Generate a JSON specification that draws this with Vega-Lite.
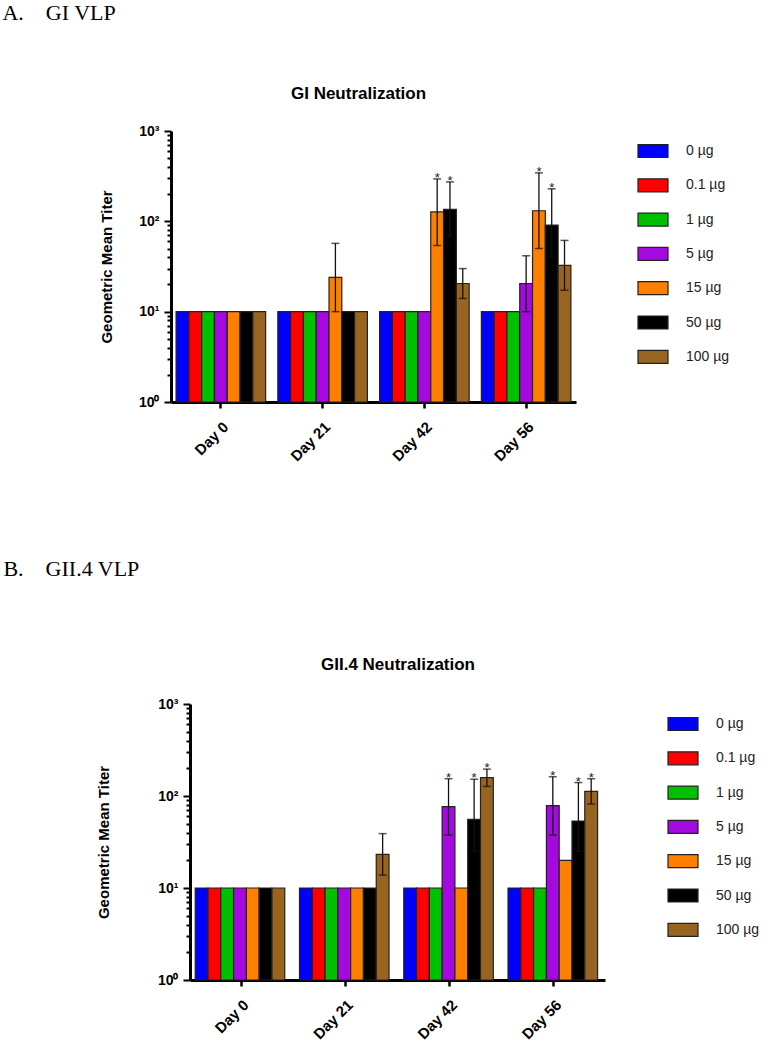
{
  "$schema": "https://vega.github.io/schema/vega-lite/v6.json",
  "background": "white",
  "padding": {"left": 2, "top": 2, "right": 0, "bottom": 0},
  "config": {"view": {"stroke": null}, "font": "Liberation Sans"},
  "datasets": {
    "rows": [
      {"panel": "A", "day": "Day 0", "dose": "0 µg", "gmt": 10},
      {"panel": "A", "day": "Day 0", "dose": "0.1 µg", "gmt": 10},
      {"panel": "A", "day": "Day 0", "dose": "1 µg", "gmt": 10},
      {"panel": "A", "day": "Day 0", "dose": "5 µg", "gmt": 10},
      {"panel": "A", "day": "Day 0", "dose": "15 µg", "gmt": 10},
      {"panel": "A", "day": "Day 0", "dose": "50 µg", "gmt": 10},
      {"panel": "A", "day": "Day 0", "dose": "100 µg", "gmt": 10},
      {"panel": "A", "day": "Day 21", "dose": "0 µg", "gmt": 10},
      {"panel": "A", "day": "Day 21", "dose": "0.1 µg", "gmt": 10},
      {"panel": "A", "day": "Day 21", "dose": "1 µg", "gmt": 10},
      {"panel": "A", "day": "Day 21", "dose": "5 µg", "gmt": 10},
      {"panel": "A", "day": "Day 21", "dose": "15 µg", "gmt": 24, "lo": 10, "hi": 57},
      {"panel": "A", "day": "Day 21", "dose": "50 µg", "gmt": 10},
      {"panel": "A", "day": "Day 21", "dose": "100 µg", "gmt": 10},
      {"panel": "A", "day": "Day 42", "dose": "0 µg", "gmt": 10},
      {"panel": "A", "day": "Day 42", "dose": "0.1 µg", "gmt": 10},
      {"panel": "A", "day": "Day 42", "dose": "1 µg", "gmt": 10},
      {"panel": "A", "day": "Day 42", "dose": "5 µg", "gmt": 10},
      {"panel": "A", "day": "Day 42", "dose": "15 µg", "gmt": 127, "lo": 54, "hi": 295, "star": true},
      {"panel": "A", "day": "Day 42", "dose": "50 µg", "gmt": 136, "lo": 68, "hi": 273, "star": true},
      {"panel": "A", "day": "Day 42", "dose": "100 µg", "gmt": 20.5, "lo": 14, "hi": 30},
      {"panel": "A", "day": "Day 56", "dose": "0 µg", "gmt": 10},
      {"panel": "A", "day": "Day 56", "dose": "0.1 µg", "gmt": 10},
      {"panel": "A", "day": "Day 56", "dose": "1 µg", "gmt": 10},
      {"panel": "A", "day": "Day 56", "dose": "5 µg", "gmt": 20.5, "lo": 10, "hi": 41.6},
      {"panel": "A", "day": "Day 56", "dose": "15 µg", "gmt": 131, "lo": 50, "hi": 344, "star": true},
      {"panel": "A", "day": "Day 56", "dose": "50 µg", "gmt": 91, "lo": 40, "hi": 229, "star": true},
      {"panel": "A", "day": "Day 56", "dose": "100 µg", "gmt": 32.5, "lo": 17.3, "hi": 61.5},
      {"panel": "B", "day": "Day 0", "dose": "0 µg", "gmt": 10},
      {"panel": "B", "day": "Day 0", "dose": "0.1 µg", "gmt": 10},
      {"panel": "B", "day": "Day 0", "dose": "1 µg", "gmt": 10},
      {"panel": "B", "day": "Day 0", "dose": "5 µg", "gmt": 10},
      {"panel": "B", "day": "Day 0", "dose": "15 µg", "gmt": 10},
      {"panel": "B", "day": "Day 0", "dose": "50 µg", "gmt": 10},
      {"panel": "B", "day": "Day 0", "dose": "100 µg", "gmt": 10},
      {"panel": "B", "day": "Day 21", "dose": "0 µg", "gmt": 10},
      {"panel": "B", "day": "Day 21", "dose": "0.1 µg", "gmt": 10},
      {"panel": "B", "day": "Day 21", "dose": "1 µg", "gmt": 10},
      {"panel": "B", "day": "Day 21", "dose": "5 µg", "gmt": 10},
      {"panel": "B", "day": "Day 21", "dose": "15 µg", "gmt": 10},
      {"panel": "B", "day": "Day 21", "dose": "50 µg", "gmt": 10},
      {"panel": "B", "day": "Day 21", "dose": "100 µg", "gmt": 23.2, "lo": 13.8, "hi": 39},
      {"panel": "B", "day": "Day 42", "dose": "0 µg", "gmt": 10},
      {"panel": "B", "day": "Day 42", "dose": "0.1 µg", "gmt": 10},
      {"panel": "B", "day": "Day 42", "dose": "1 µg", "gmt": 10},
      {"panel": "B", "day": "Day 42", "dose": "5 µg", "gmt": 76.5, "lo": 37.7, "hi": 154, "star": true},
      {"panel": "B", "day": "Day 42", "dose": "15 µg", "gmt": 10},
      {"panel": "B", "day": "Day 42", "dose": "50 µg", "gmt": 55.8, "lo": 25, "hi": 152, "star": true},
      {"panel": "B", "day": "Day 42", "dose": "100 µg", "gmt": 158, "lo": 127, "hi": 196, "star": true},
      {"panel": "B", "day": "Day 56", "dose": "0 µg", "gmt": 10},
      {"panel": "B", "day": "Day 56", "dose": "0.1 µg", "gmt": 10},
      {"panel": "B", "day": "Day 56", "dose": "1 µg", "gmt": 10},
      {"panel": "B", "day": "Day 56", "dose": "5 µg", "gmt": 78.5, "lo": 37.7, "hi": 162, "star": true},
      {"panel": "B", "day": "Day 56", "dose": "15 µg", "gmt": 20},
      {"panel": "B", "day": "Day 56", "dose": "50 µg", "gmt": 53.5, "lo": 25, "hi": 140, "star": true},
      {"panel": "B", "day": "Day 56", "dose": "100 µg", "gmt": 112.5, "lo": 82, "hi": 154, "star": true}
    ]
  },
  "spacing": 94,
  "resolve": {"legend": {"color": "independent"}},
  "vconcat": [
    {
      "title": {"text": "A.\u00a0\u00a0\u00a0\u00a0GI VLP", "anchor": "start", "font": "Liberation Serif", "fontSize": 22, "fontWeight": "normal", "color": "#000", "dx": -97, "offset": 60},
      "vconcat": [
        {
          "width": 405,
          "height": 271,
          "title": {"text": "GI Neutralization", "fontSize": 17, "fontWeight": "bold", "color": "#000", "offset": 21, "anchor": "middle", "dx": -15},
          "data": {"name": "rows"},
          "transform": [{"filter": "datum.panel == 'A'"}],
          "encoding": {
            "x": {"field": "day", "type": "nominal", "sort": ["Day 0", "Day 21", "Day 42", "Day 56"],
              "scale": {"paddingInner": 0.12, "paddingOuter": 0.05},
              "axis": {"title": null, "labelAngle": -45, "labelFontSize": 15, "labelFontWeight": "bold", "labelColor": "#000", "domainColor": "#000", "domainWidth": 3, "tickColor": "#000", "tickWidth": 2.5, "tickSize": 6, "labelPadding": 11}},
            "xOffset": {"field": "dose", "type": "nominal", "sort": ["0 µg", "0.1 µg", "1 µg", "5 µg", "15 µg", "50 µg", "100 µg"], "scale": {"paddingInner": 0, "paddingOuter": 0}}
          },
          "layer": [
            {
              "mark": {"type": "bar", "stroke": "#222", "strokeWidth": 1.2},
              "encoding": {
                "y": {"field": "gmt", "type": "quantitative", "scale": {"type": "log", "domain": [1, 1000], "nice": false},
                  "axis": {"title": "Geometric Mean Titer", "titleFontSize": 15, "titleFontWeight": "bold", "titleColor": "#000", "titlePadding": 24,
                    "values": [1, 2, 3, 4, 5, 6, 7, 8, 9, 10, 20, 30, 40, 50, 60, 70, 80, 90, 100, 200, 300, 400, 500, 600, 700, 800, 900, 1000],
                    "labelExpr": "datum.value == 1 ? '10⁰' : datum.value == 10 ? '10¹' : datum.value == 100 ? '10²' : datum.value == 1000 ? '10³' : ''",
                    "labelFontSize": 14, "labelFontWeight": "bold", "labelColor": "#000", "labelOverlap": false, "labelBound": false, "labelFlush": false, "labelPadding": 5,
                    "tickColor": "#000", "tickWidth": 2, "tickSize": {"condition": {"test": "indexof([1,10,100,1000], datum.value) >= 0", "value": 7}, "value": 4},
                    "domainColor": "#000", "domainWidth": 3, "grid": false}},
                "y2": {"datum": 1},
                "color": {"field": "dose", "type": "nominal",
                  "scale": {"domain": ["0 µg", "0.1 µg", "1 µg", "5 µg", "15 µg", "50 µg", "100 µg"], "range": ["#0000FF", "#FF0000", "#00C000", "#A40ADF", "#FF8000", "#000000", "#98641F"]},
                  "legend": {"title": null, "orient": "none", "legendX": 466, "legendY": 4, "symbolType": "M-1,-0.433H1V0.433H-1Z", "symbolSize": 900, "symbolStrokeColor": "#222", "symbolStrokeWidth": 1.2, "symbolOpacity": 1, "labelFontSize": 14, "labelColor": "#222", "labelOffset": 17, "rowPadding": 9.3}}
              }
            },
            {
              "transform": [{"filter": "datum.hi != null"}],
              "mark": {"type": "rule", "color": "#111", "strokeWidth": 1.3},
              "encoding": {"y": {"field": "lo", "type": "quantitative"}, "y2": {"field": "hi"}}
            },
            {
              "transform": [{"filter": "datum.hi != null"}],
              "mark": {"type": "tick", "orient": "horizontal", "color": "#111", "thickness": 1.5, "size": 8},
              "encoding": {"y": {"field": "hi", "type": "quantitative"}}
            },
            {
              "transform": [{"filter": "datum.hi != null"}],
              "mark": {"type": "tick", "orient": "horizontal", "color": "#111", "thickness": 1.5, "size": 8},
              "encoding": {"y": {"field": "lo", "type": "quantitative"}}
            },
            {
              "transform": [{"filter": "datum.star == true"}],
              "mark": {"type": "text", "text": "*", "fontSize": 13, "color": "#222", "baseline": "alphabetic", "dy": 3},
              "encoding": {"y": {"field": "hi", "type": "quantitative"}}
            }
          ]
        }
      ]
    },
    {
      "title": {"text": "B.\u00a0\u00a0\u00a0\u00a0GII.4 VLP", "anchor": "start", "font": "Liberation Serif", "fontSize": 22, "fontWeight": "normal", "color": "#000", "dx": -93, "offset": 75},
      "vconcat": [
        {
          "width": 434,
          "height": 276,
          "title": {"text": "GII.4 Neutralization", "fontSize": 17, "fontWeight": "bold", "color": "#000", "offset": 23, "anchor": "middle", "dx": 10},
          "data": {"name": "rows"},
          "transform": [{"filter": "datum.panel == 'B'"}],
          "encoding": {
            "x": {"field": "day", "type": "nominal", "sort": ["Day 0", "Day 21", "Day 42", "Day 56"],
              "scale": {"paddingInner": 0.12, "paddingOuter": 0.05, "range": [19, 434]},
              "axis": {"title": null, "labelAngle": -45, "labelFontSize": 15, "labelFontWeight": "bold", "labelColor": "#000", "domainColor": "#000", "domainWidth": 3, "tickColor": "#000", "tickWidth": 2.5, "tickSize": 6, "labelPadding": 11}},
            "xOffset": {"field": "dose", "type": "nominal", "sort": ["0 µg", "0.1 µg", "1 µg", "5 µg", "15 µg", "50 µg", "100 µg"], "scale": {"paddingInner": 0, "paddingOuter": 0}}
          },
          "layer": [
            {
              "mark": {"type": "bar", "stroke": "#222", "strokeWidth": 1.2},
              "encoding": {
                "y": {"field": "gmt", "type": "quantitative", "scale": {"type": "log", "domain": [1, 1000], "nice": false},
                  "axis": {"title": "Geometric Mean Titer", "titleFontSize": 15, "titleFontWeight": "bold", "titleColor": "#000", "titlePadding": 46, "offset": -19,
                    "values": [1, 2, 3, 4, 5, 6, 7, 8, 9, 10, 20, 30, 40, 50, 60, 70, 80, 90, 100, 200, 300, 400, 500, 600, 700, 800, 900, 1000],
                    "labelExpr": "datum.value == 1 ? '10⁰' : datum.value == 10 ? '10¹' : datum.value == 100 ? '10²' : datum.value == 1000 ? '10³' : ''",
                    "labelFontSize": 14, "labelFontWeight": "bold", "labelColor": "#000", "labelOverlap": false, "labelBound": false, "labelFlush": false, "labelPadding": 5,
                    "tickColor": "#000", "tickWidth": 2, "tickSize": {"condition": {"test": "indexof([1,10,100,1000], datum.value) >= 0", "value": 7}, "value": 4},
                    "domainColor": "#000", "domainWidth": 3, "grid": false}},
                "y2": {"datum": 1},
                "color": {"field": "dose", "type": "nominal",
                  "scale": {"domain": ["0 µg", "0.1 µg", "1 µg", "5 µg", "15 µg", "50 µg", "100 µg"], "range": ["#0000FF", "#FF0000", "#00C000", "#A40ADF", "#FF8000", "#000000", "#98641F"]},
                  "legend": {"title": null, "orient": "none", "legendX": 496, "legendY": 4, "symbolType": "M-1,-0.433H1V0.433H-1Z", "symbolSize": 900, "symbolStrokeColor": "#222", "symbolStrokeWidth": 1.2, "symbolOpacity": 1, "labelFontSize": 14, "labelColor": "#222", "labelOffset": 17, "rowPadding": 9.3}}
              }
            },
            {
              "transform": [{"filter": "datum.hi != null"}],
              "mark": {"type": "rule", "color": "#111", "strokeWidth": 1.3},
              "encoding": {"y": {"field": "lo", "type": "quantitative"}, "y2": {"field": "hi"}}
            },
            {
              "transform": [{"filter": "datum.hi != null"}],
              "mark": {"type": "tick", "orient": "horizontal", "color": "#111", "thickness": 1.5, "size": 8},
              "encoding": {"y": {"field": "hi", "type": "quantitative"}}
            },
            {
              "transform": [{"filter": "datum.hi != null"}],
              "mark": {"type": "tick", "orient": "horizontal", "color": "#111", "thickness": 1.5, "size": 8},
              "encoding": {"y": {"field": "lo", "type": "quantitative"}}
            },
            {
              "transform": [{"filter": "datum.star == true"}],
              "mark": {"type": "text", "text": "*", "fontSize": 13, "color": "#222", "baseline": "alphabetic", "dy": 3},
              "encoding": {"y": {"field": "hi", "type": "quantitative"}}
            }
          ]
        }
      ]
    }
  ]
}
